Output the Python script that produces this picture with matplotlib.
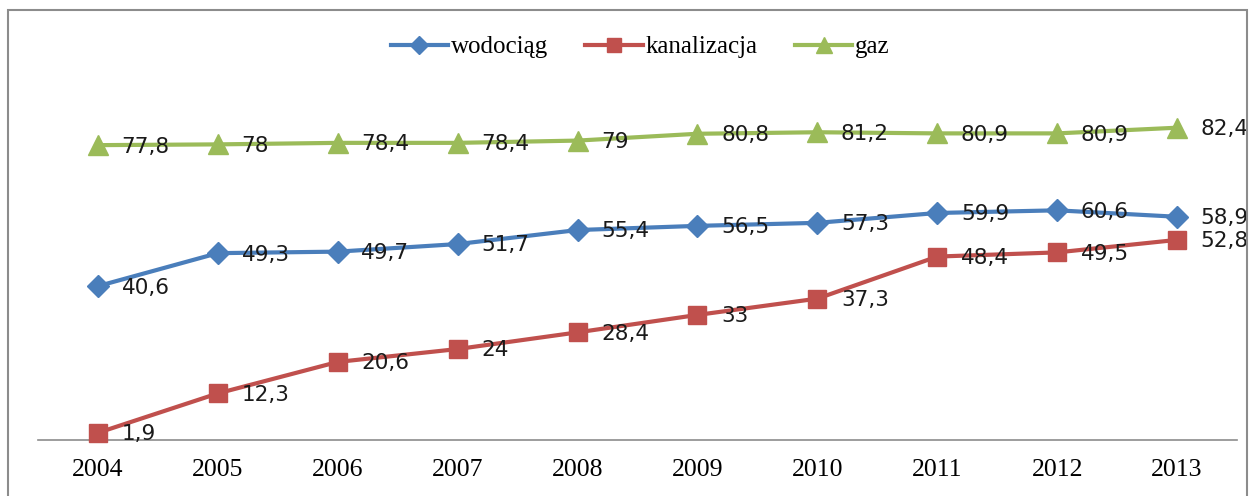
import matplotlib.pyplot as plt
from matplotlib.patches import Rectangle
import numpy as np

years = ['2004', '2005', '2006', '2007', '2008', '2009', '2010', '2011', '2012', '2013']
wodociag = [40.6, 49.3, 49.7, 51.7, 55.4, 56.5, 57.3, 59.9, 60.6, 58.9]
kanalizacja = [1.9, 12.3, 20.6, 24, 28.4, 33, 37.3, 48.4, 49.5, 52.8]
gaz = [77.8, 78, 78.4, 78.4, 79, 80.8, 81.2, 80.9, 80.9, 82.4]

W, H = 1252, 496
fig = plt.figure(figsize=(W / 100, H / 100), dpi=100)
ax = fig.add_axes([38 / W, 56 / H, 1199 / W, 379 / H])

# chart border
fig.patches.append(Rectangle((8 / W, -0.05), 1239 / W, (H - 10) / H + 0.05,
                             transform=fig.transFigure, fill=False,
                             edgecolor='#8c8c8c', linewidth=1.5))

x = np.arange(len(years))
series = [
    ('wodociąg', wodociag, '#4a7ebb', 'D', 11),
    ('kanalizacja', kanalizacja, '#c0504d', 's', 13),
    ('gaz', gaz, '#9bbb59', '^', 14),
]
for name, vals, col, mk, ms in series:
    ax.plot(x, vals, color=col, linewidth=3, marker=mk, markersize=ms,
            label=name, clip_on=False, zorder=3)
    for xi, v in zip(x, vals):
        ax.annotate(f'{v:g}'.replace('.', ','), (xi, v), xytext=(17, -1),
                    textcoords='offset points', ha='left', va='center',
                    fontsize=15.5, family='DejaVu Sans', color='#1a1a1a', zorder=4)

ax.set_xlim(-0.5, len(years) - 0.5)
ax.set_ylim(0, 100)
ax.set_xticks(x)
ax.set_xticklabels(years, family='Liberation Serif', fontsize=18.5)
ax.tick_params(axis='x', length=0, pad=14)
ax.set_yticks([])
for s in ['top', 'right', 'left']:
    ax.spines[s].set_visible(False)
ax.spines['bottom'].set_color('#8c8c8c')
ax.spines['bottom'].set_linewidth(1.2)

fig.legend(loc='center', bbox_to_anchor=(640 / W, 449 / H), ncol=3, frameon=False,
           prop={'family': 'Liberation Serif', 'size': 18}, handlelength=2.3,
           handletextpad=0.1, columnspacing=1.5, markerscale=0.8)

fig.savefig('out.png', dpi=100)
